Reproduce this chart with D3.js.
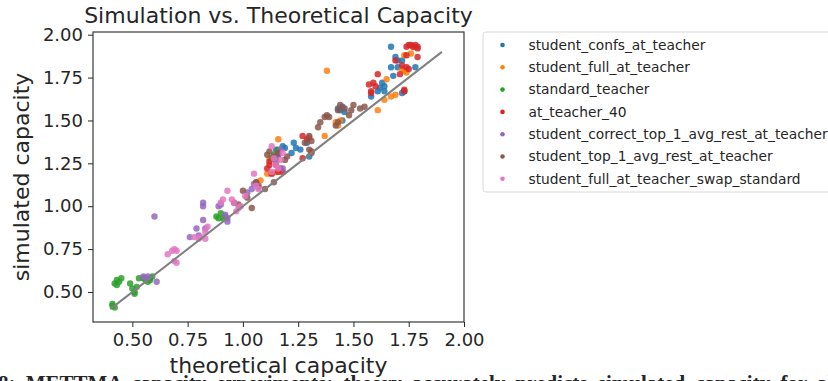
<!DOCTYPE html>
<html>
<head>
<meta charset="utf-8">
<script src="https://cdn.jsdelivr.net/npm/d3@7"></script>
<style>
  html, body { margin: 0; padding: 0; background: #fff; }
  svg { display: block; }
  text { font-family: "DejaVu Sans", sans-serif; fill: #262626; }
</style>
</head>
<body>
<svg id="chart" width="828" height="381"></svg>
<script>
// Series names, in legend order
const seriesNames = [
  "student_confs_at_teacher",
  "student_full_at_teacher",
  "standard_teacher",
  "at_teacher_40",
  "student_correct_top_1_avg_rest_at_teacher",
  "student_top_1_avg_rest_at_teacher",
  "student_full_at_teacher_swap_standard"
];
const seriesColors = ["#1f77b4", "#ff7f0e", "#2ca02c", "#d62728", "#9467bd", "#8c564b", "#e377c2"];

// [theoretical, simulated] pairs per series
const studentConfs = [
  [1.67,1.93],[1.69,1.87],[1.70,1.85],[1.67,1.81],[1.70,1.81],[1.72,1.85],[1.68,1.76],[1.78,1.81],
  [1.73,1.67],[1.72,1.66],[1.63,1.72],[1.64,1.70],[1.62,1.69],[1.61,1.67],[1.58,1.64],[1.64,1.67],
  [1.44,1.56],[1.45,1.58],[1.46,1.55],[1.45,1.50],[1.43,1.57],[1.18,1.35],[1.19,1.34],[1.22,1.31],
  [1.23,1.37],[1.24,1.34],[1.26,1.33],[1.29,1.37],[1.30,1.29],[1.15,1.33],[1.16,1.30]
];
const studentFull = [
  [1.38,1.79],[1.73,1.88],[1.76,1.89],[1.77,1.93],[1.72,1.80],[1.73,1.79],[1.74,1.78],[1.65,1.74],
  [1.67,1.64],[1.69,1.65],[1.64,1.62],[1.61,1.56],[1.42,1.49],[1.43,1.47],[1.44,1.50],[1.37,1.41],
  [1.16,1.39],[1.11,1.19],[1.13,1.19],[1.15,1.20],[1.12,1.28],[1.06,1.14],[1.08,1.15],[1.07,1.12]
];
const standardTeacher = [
  [0.41,0.42],[0.41,0.43],[0.42,0.41],[0.42,0.55],[0.43,0.57],[0.44,0.56],[0.45,0.58],[0.43,0.54],
  [0.49,0.55],[0.50,0.52],[0.51,0.50],[0.52,0.53],[0.51,0.49],[0.53,0.58],[0.55,0.58],[0.56,0.57],
  [0.57,0.56],[0.58,0.57],[0.59,0.59],[0.58,0.58],[0.88,0.94],[0.89,0.93],[0.90,0.96],[0.91,0.93],
  [0.92,0.94],[1.13,1.28],[1.14,1.30],[1.16,1.33],[1.15,1.27]
];
const atTeacher40 = [
  [1.74,1.93],[1.75,1.94],[1.76,1.94],[1.77,1.93],[1.78,1.94],[1.79,1.93],[1.79,1.92],[1.74,1.88],
  [1.79,1.87],[1.69,1.85],[1.72,1.82],[1.74,1.81],[1.75,1.80],[1.71,1.77],[1.73,1.68],[1.73,1.67],
  [1.61,1.77],[1.57,1.71],[1.59,1.72],[1.60,1.70],[1.58,1.66],[1.58,1.67],[1.27,1.41],[1.29,1.39],
  [1.30,1.40],[1.27,1.28],[1.31,1.32],[1.11,1.22],[1.12,1.26],[1.13,1.19],[1.15,1.24],[1.16,1.20],
  [1.17,1.22],[1.12,1.24],[1.14,1.28],[1.18,1.20],[1.06,1.13]
];
const studentCorrectTop1 = [
  [0.55,0.59],[0.56,0.58],[0.57,0.59],[0.61,0.56],[0.60,0.94],[0.76,0.82],[0.79,0.87],[0.80,0.83],
  [0.82,0.92],[0.82,1.00],[0.82,1.02],[0.83,0.87],[0.89,1.00],[0.90,1.01],[0.93,0.91],[0.93,0.93],
  [0.92,0.95],[1.02,1.08],[1.04,1.10],[1.05,1.13],[1.07,1.12],[1.15,1.26],[1.16,1.30],[1.17,1.33],
  [1.18,1.22]
];
const studentTop1 = [
  [0.96,1.02],[0.98,1.01],[1.00,1.09],[1.02,1.05],[1.04,0.99],[1.06,1.14],[1.07,1.11],[1.10,1.10],
  [1.14,1.14],[1.11,1.30],[1.12,1.32],[1.14,1.29],[1.16,1.31],[1.19,1.27],[1.20,1.29],[1.28,1.37],
  [1.30,1.41],[1.31,1.38],[1.31,1.31],[1.30,1.33],[1.34,1.46],[1.35,1.49],[1.37,1.52],[1.38,1.53],
  [1.39,1.52],[1.42,1.47],[1.43,1.49],[1.43,1.56],[1.44,1.59],[1.46,1.57],[1.48,1.53],[1.49,1.56],
  [1.50,1.59],[1.53,1.57],[1.55,1.58]
];
const studentFullSwap = [
  [0.66,0.72],[0.68,0.74],[0.69,0.75],[0.69,0.68],[0.70,0.67],[0.70,0.74],[0.78,0.82],[0.80,0.81],
  [0.81,0.82],[0.83,0.81],[0.83,0.85],[0.84,0.88],[0.90,1.02],[0.91,1.04],[0.93,1.09],[0.95,1.04],
  [0.96,1.02],[0.97,0.97],[0.98,0.99],[0.99,1.00],[1.01,1.06],[1.05,1.19],[1.06,1.12],[1.07,1.10],
  [1.13,1.35],[1.14,1.28],[1.15,1.24],[1.16,1.22],[1.17,1.27],[1.18,1.31],[1.13,1.20]
];
const seriesValues = [studentConfs, studentFull, standardTeacher, atTeacher40,
                      studentCorrectTop1, studentTop1, studentFullSwap];

// Reference line y = x
const refLine = [[0.4, 0.4], [1.9, 1.9]];

const tickValues = [0.50, 0.75, 1.00, 1.25, 1.50, 1.75, 2.00];
const titleText = "Simulation vs. Theoretical Capacity";
const xLabel = "theoretical capacity";
const yLabel = "simulated capacity";
const captionText = "8: METTMA capacity experiments: theory accurately predicts simulated capacity for all";

const svg = d3.select("#chart");
const plot = { left: 93, right: 464, top: 32, bottom: 322 };

const x = d3.scaleLinear().domain([0.322, 2.0]).range([plot.left, plot.right]);
const y = d3.scaleLinear().domain([0.325, 2.0157]).range([plot.bottom, plot.top]);

// Points
const g = svg.append("g");
seriesValues.forEach((pts, i) => {
  g.selectAll(null)
    .data(pts)
    .enter().append("circle")
    .attr("cx", d => x(d[0]))
    .attr("cy", d => y(d[1]))
    .attr("r", 3.2)
    .attr("fill", seriesColors[i])
    .attr("fill-opacity", 0.85);
});

// Diagonal reference line
svg.append("path")
  .datum(refLine)
  .attr("d", d3.line().x(d => x(d[0])).y(d => y(d[1])))
  .attr("stroke", "#808080")
  .attr("stroke-width", 2)
  .attr("fill", "none");

// Axes
const fmt = d3.format(".2f");
const xAxis = svg.append("g")
  .attr("transform", `translate(0,${plot.bottom})`)
  .call(d3.axisBottom(x).tickValues(tickValues).tickFormat(fmt).tickSize(5).tickPadding(6));
const yAxis = svg.append("g")
  .attr("transform", `translate(${plot.left},0)`)
  .call(d3.axisLeft(y).tickValues(tickValues).tickFormat(fmt).tickSize(5).tickPadding(5));
[xAxis, yAxis].forEach(a => {
  a.select(".domain").remove();
  a.selectAll("line").attr("stroke", "#262626").attr("stroke-width", 1);
  a.selectAll("text").style("font-family", "DejaVu Sans, sans-serif").style("font-size", "18px").attr("fill", "#262626");
});

// Frame
svg.append("rect")
  .attr("x", plot.left).attr("y", plot.top)
  .attr("width", plot.right - plot.left).attr("height", plot.bottom - plot.top)
  .attr("fill", "none").attr("stroke", "#262626").attr("stroke-width", 1.1);

// Title and axis labels
svg.append("text")
  .attr("x", (plot.left + plot.right) / 2).attr("y", 23)
  .attr("text-anchor", "middle").style("font-size", "22px")
  .text(titleText);
svg.append("text")
  .attr("x", (plot.left + plot.right) / 2).attr("y", 373)
  .attr("text-anchor", "middle").style("font-size", "22px")
  .text(xLabel);
svg.append("text")
  .attr("transform", `translate(29,${(plot.top + plot.bottom) / 2}) rotate(-90)`)
  .attr("text-anchor", "middle").style("font-size", "22px")
  .text(yLabel);

// Legend
const legend = svg.append("g").attr("transform", "translate(483,32)");
legend.append("rect")
  .attr("x", 0).attr("y", 0).attr("width", 360).attr("height", 160)
  .attr("rx", 3).attr("fill", "#fff").attr("fill-opacity", 0.8)
  .attr("stroke", "#d9d9d9").attr("stroke-width", 1);
seriesNames.forEach((name, i) => {
  const yy = 13 + i * 22.3;
  legend.append("circle").attr("cx", 19.5).attr("cy", yy).attr("r", 2.3).attr("fill", seriesColors[i]);
  legend.append("text")
    .attr("x", 45.5).attr("y", yy).attr("dy", "0.35em")
    .style("font-size", "13.8px")
    .text(name);
});

// Caption line, mostly below the bottom edge
svg.append("text")
  .attr("x", -2).attr("y", 390)
  .style("font-family", "Liberation Serif, serif")
  .style("font-weight", "bold").style("font-size", "21px")
  .style("word-spacing", "5px")
  .attr("fill", "#000")
  .text(captionText);
</script>
</body>
</html>
